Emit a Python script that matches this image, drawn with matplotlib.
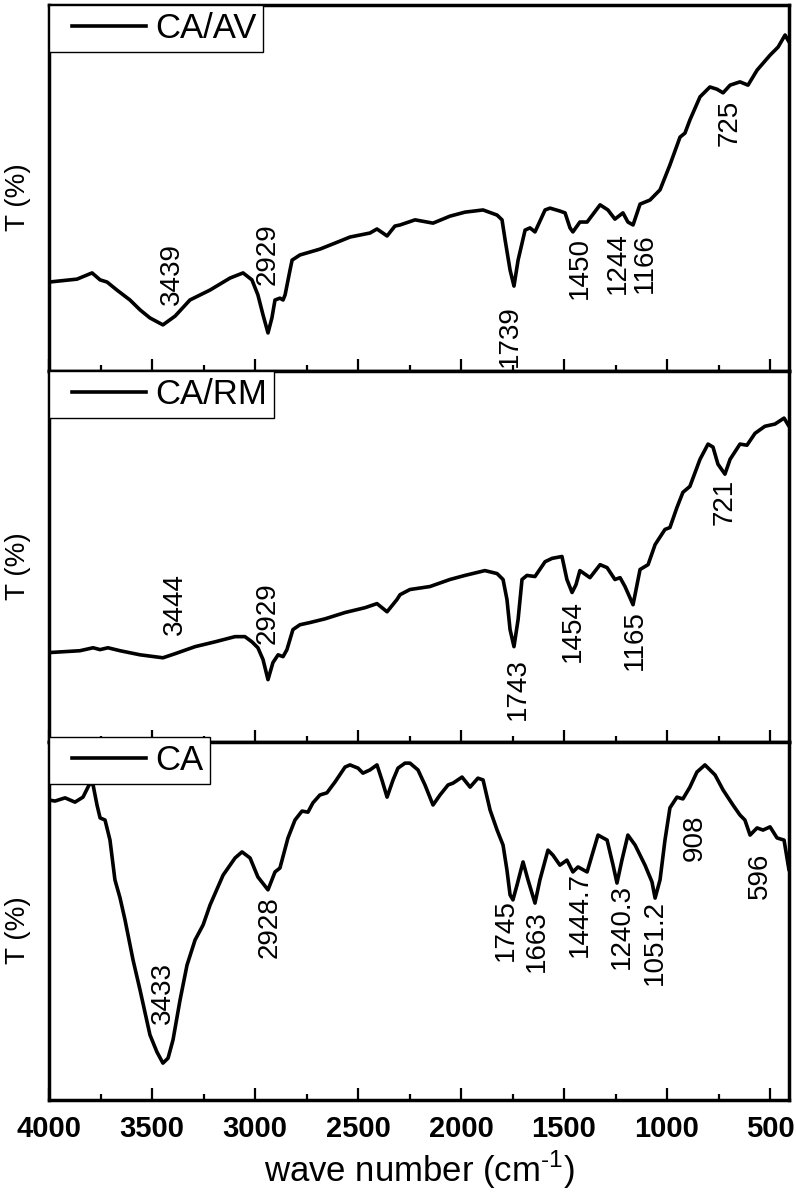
"""FTIR spectra of CA, CA/RM and CA/AV, stacked panels sharing the wavenumber axis."""
import matplotlib
matplotlib.use('Agg')
import matplotlib.pyplot as plt
from matplotlib.legend_handler import HandlerLine2D
from matplotlib.lines import Line2D
from matplotlib.ticker import MultipleLocator, NullLocator

plt.rcParams['font.family'] = ['Liberation Sans', 'DejaVu Sans']
plt.rcParams['mathtext.fontset'] = 'custom'
plt.rcParams['mathtext.rm'] = 'Liberation Sans'

# =============================================================================
# Data (transmittance in arbitrary %)
# =============================================================================

WN_AV = [4000, 3864, 3791, 3752, 3718, 3670, 3607, 3558, 3510, 3447, 3388, 3316,
         3219, 3121, 3058, 3015, 2986, 2961, 2937, 2918, 2903, 2879, 2864, 2854,
         2830, 2820, 2782, 2685, 2587, 2539, 2442, 2408, 2359, 2321, 2296, 2223,
         2136, 2054, 1981, 1893, 1825, 1801, 1786, 1762, 1743, 1723, 1689, 1665,
         1641, 1592, 1568, 1520, 1495, 1471, 1457, 1423, 1388, 1325, 1287, 1253,
         1214, 1190, 1165, 1131, 1083, 1034, 986, 937, 913, 889, 840, 792, 758,
         728, 694, 646, 607, 563, 500, 461, 427, 408]
T_AV = [24.3, 25.1, 26.8, 24.9, 24.3, 22.1, 19.4, 16.7, 14.5, 12.6, 15.0, 19.4,
        22.1, 25.4, 26.8, 24.9, 20.8, 15.3, 10.4, 14.5, 19.4, 19.9, 19.4, 20.8,
        27.6, 30.3, 31.7, 33.3, 35.5, 36.6, 37.7, 38.8, 36.9, 39.6, 39.9, 41.3,
        40.4, 42.3, 43.4, 44.0, 42.6, 41.3, 35.8, 27.6, 23.2, 30.3, 38.5, 39.1,
        38.0, 44.0, 44.5, 43.7, 43.2, 39.1, 38.0, 40.7, 40.7, 45.4, 44.0, 41.5,
        43.2, 40.7, 39.9, 45.6, 46.7, 49.5, 56.3, 63.9, 65.0, 68.6, 74.9, 77.6, 77.0,
        76.0, 78.1, 79.0, 78.1, 82.2, 86.3, 88.5, 91.8, 89.9]

WN_RM = [4000, 3850, 3786, 3752, 3714, 3655, 3558, 3447, 3388, 3291, 3194, 3097,
         3049, 3015, 2986, 2961, 2937, 2913, 2888, 2864, 2845, 2816, 2782, 2733,
         2660, 2563, 2466, 2408, 2359, 2311, 2296, 2248, 2151, 2054, 1981, 1884,
         1825, 1796, 1777, 1762, 1743, 1723, 1704, 1680, 1641, 1592, 1558, 1510,
         1486, 1461, 1442, 1423, 1374, 1325, 1291, 1253, 1228, 1204, 1165, 1131,
         1092, 1058, 1010, 986, 952, 923, 889, 840, 801, 777, 753, 719, 694, 646,
         612, 573, 525, 476, 432, 408]
T_RM = [24.1, 24.6, 25.4, 24.9, 25.4, 24.6, 23.5, 22.7, 23.8, 25.7, 27.0, 28.4,
        28.4, 27.0, 25.4, 22.2, 16.8, 21.4, 23.5, 23.0, 24.9, 30.3, 31.6, 32.2,
        33.2, 34.9, 36.2, 37.3, 35.1, 38.4, 39.7, 41.1, 41.9, 43.8, 44.9, 46.2,
        45.4, 43.8, 38.4, 30.3, 25.7, 33.0, 43.8, 44.9, 44.6, 48.6, 49.5, 50.0,
        43.8, 40.3, 42.4, 46.2, 44.3, 47.8, 47.0, 43.8, 44.3, 41.9, 37.0, 46.5,
        47.8, 53.2, 57.3, 57.8, 63.2, 67.3, 68.9, 76.2, 80.3, 79.5, 74.9, 72.2, 76.2, 80.3,
        80.0, 83.2, 85.1, 85.7, 87.3, 85.1]

WN_CA = [4000, 3971, 3922, 3874, 3835, 3801, 3786, 3767, 3752, 3728, 3704, 3680,
         3655, 3631, 3592, 3558, 3510, 3476, 3447, 3422, 3398, 3364, 3330, 3291,
         3252, 3218, 3155, 3097, 3063, 3024, 2986, 2937, 2903, 2879, 2840, 2806,
         2772, 2743, 2719, 2685, 2651, 2612, 2563, 2539, 2500, 2476, 2442, 2408,
         2384, 2359, 2330, 2306, 2272, 2248, 2209, 2175, 2136, 2102, 2063, 2039,
         1995, 1956, 1918, 1893, 1859, 1825, 1796, 1777, 1762, 1748, 1728, 1699,
         1675, 1641, 1617, 1578, 1554, 1520, 1486, 1457, 1432, 1388, 1364, 1335,
         1291, 1262, 1243, 1219, 1190, 1155, 1107, 1073, 1058, 1034, 1010, 986,
         952, 923, 889, 855, 816, 767, 728, 680, 646, 622, 597, 563, 534, 500,
         466, 432, 408]
T_CA = [83.8, 83.5, 84.4, 83.2, 84.6, 88.5, 88.0, 82.4, 78.8, 78.2, 72.6, 61.5,
        56.4, 50.3, 39.1, 30.7, 18.2, 13.4, 10.3, 11.7, 16.8, 27.9, 37.7, 44.7,
        48.9, 54.5, 62.8, 67.6, 69.3, 67.6, 62.3, 58.7, 63.7, 64.8, 73.2, 78.2,
        80.7, 80.4, 83.0, 85.2, 85.8, 88.8, 93.0, 93.6, 92.7, 91.3, 92.2, 93.6,
        89.4, 84.6, 89.4, 92.7, 94.1, 94.1, 92.2, 88.0, 82.4, 85.2, 88.0, 88.5,
        90.2, 87.4, 89.9, 89.4, 81.0, 75.4, 71.2, 64.2, 57.3, 55.9, 60.1, 66.5,
        61.5, 55.0, 61.5, 69.8, 68.4, 65.6, 67.0, 63.7, 65.1, 63.7, 68.4, 74.0,
        72.6, 65.6, 60.6, 67.0, 74.0, 71.2, 65.6, 60.9, 56.4, 61.5, 72.6, 81.6,
        84.6, 84.1, 87.4, 91.6, 93.6, 90.8, 86.6, 82.4, 79.6, 78.2, 74.0, 76.0, 75.4, 76.3,
        73.2, 72.6, 64.2]

# peak labels: text, wavenumber of text centre, T of text centre
PK_AV = ['3439', '2929', '1739', '1450', '1244', '1166', '725']
PK_AV_WN = [3403, 2937, 1762, 1423, 1238, 1107, 694]
PK_AV_T = [26.5, 32.0, 9.6, 28.1, 29.6, 29.4, 67.9]

PK_RM = ['3444', '2929', '1743', '1454', '1165', '721']
PK_RM_WN = [3388, 2937, 1723, 1457, 1155, 719]
PK_RM_T = [37.3, 34.7, 14.3, 29.9, 27.4, 64.6]

PK_CA = ['3433', '2928', '1745', '1663', '1444.7', '1240.3', '1051.2', '908', '596']
PK_CA_WN = [3447, 2927, 1782, 1631, 1423, 1219, 1058, 864, 549]
PK_CA_T = [29.9, 48.3, 47.5, 44.3, 51.7, 48.6, 44.0, 73.2, 62.6]

PANELS = [
    ('CA/AV', WN_AV, T_AV, PK_AV, PK_AV_WN, PK_AV_T),
    ('CA/RM', WN_RM, T_RM, PK_RM, PK_RM_WN, PK_RM_T),
    ('CA', WN_CA, T_CA, PK_CA, PK_CA_WN, PK_CA_T),
]


class InsetLine(HandlerLine2D):
    """Legend line drawn shorter than its handle box (wide left margin)."""

    def create_artists(self, legend, orig_handle, xdescent, ydescent,
                       width, height, fontsize, trans):
        y = height / 2 - ydescent
        x0 = -xdescent + 0.45 * fontsize
        x1 = -xdescent + width - 0.25 * fontsize
        ln = Line2D([x0, x1], [y, y], color=orig_handle.get_color(),
                    lw=orig_handle.get_linewidth(), transform=trans)
        return [ln]


# =============================================================================
# Figure
# =============================================================================

W, H = 796, 1200
fig = plt.figure(figsize=(W / 100, H / 100), dpi=100)
LEFT, RIGHT = 49, 789
# pixel rows of each panel (top, bottom)
ROWS = [(5, 371), (371, 742), (742, 1100)]
LEG_Y = [1.0, 1.0, 1.014]  # CA legend box pokes a little above its panel

for i, (name, wn, t, pk, pk_wn, pk_t) in enumerate(PANELS):
    top, bot = ROWS[i]
    ax = fig.add_axes([LEFT / W, 1 - bot / H, (RIGHT - LEFT) / W, (bot - top) / H])
    line, = ax.plot(wn, t, color='black', lw=2.6, solid_joinstyle='round',
                    solid_capstyle='round', label=name)
    for s, x, y in zip(pk, pk_wn, pk_t):
        ax.text(x, y, s, rotation=90, ha='center', va='center', fontsize=20)

    ax.set_xlim(4000, 408)
    ax.set_ylim(0, 100)
    ax.yaxis.set_major_locator(NullLocator())
    ax.xaxis.set_major_locator(MultipleLocator(500))
    ax.xaxis.set_minor_locator(MultipleLocator(250))
    ax.tick_params(axis='x', which='major', direction='in', length=8.5, width=1.6)
    ax.tick_params(axis='x', which='minor', direction='in', length=4.5, width=1.6)
    for sp in ax.spines.values():
        sp.set_linewidth(2.5)

    ax.set_ylabel('T (%)', fontsize=20)
    ax.yaxis.set_label_coords(-0.024, 0.475)

    leg = ax.legend(handles=[line], loc='upper left', bbox_to_anchor=(0, LEG_Y[i]),
                    borderaxespad=0, fontsize=25, frameon=True, fancybox=False,
                    framealpha=1, edgecolor='black', borderpad=0.2,
                    handlelength=2.85, handletextpad=0.0,
                    handler_map={line: InsetLine()})
    leg.get_frame().set_linewidth(1.0)

    if i < 2:
        ax.tick_params(axis='x', labelbottom=False)
    else:
        for lbl in ax.get_xticklabels():
            lbl.set_fontweight('bold')
        ax.tick_params(axis='x', labelsize=21, pad=11)
        ax.set_xlabel(r'wave number (cm$^{\text{-}1}$)', fontsize=25, labelpad=4)

fig.savefig('out.png', dpi=100)
